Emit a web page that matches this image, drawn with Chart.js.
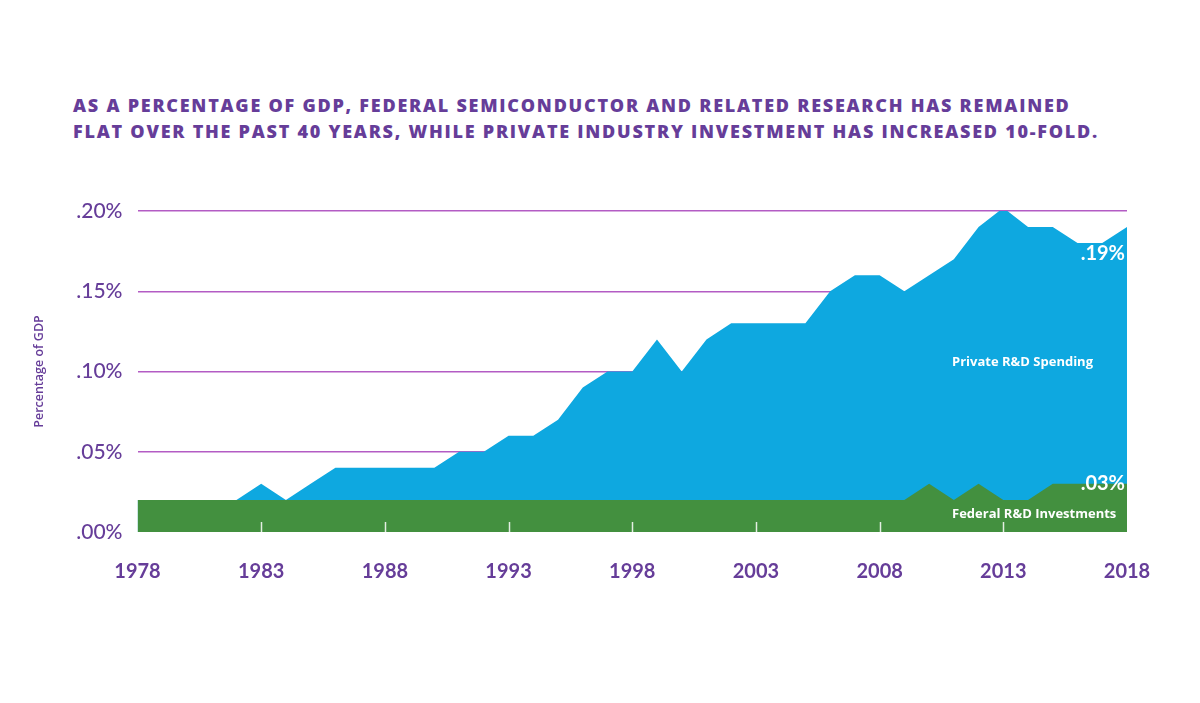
<!DOCTYPE html>
<html>
<head>
<meta charset="utf-8">
<script src="https://cdn.jsdelivr.net/npm/chart.js@4.4.1/dist/chart.umd.min.js"></script>
<style>
  html, body { margin: 0; padding: 0; background: #fff; }
  #wrap { position: relative; width: 1200px; height: 703px; }
  #headline {
    position: absolute; left: 73px; top: 92px;
    font-family: "Open Sans", sans-serif; font-weight: 800;
    font-size: 18px; line-height: 26px; color: #663d99;
    letter-spacing: 1.75px;
    white-space: nowrap;
  }
  canvas { position: absolute; left: 0; top: 0; }
</style>
</head>
<body>
<div id="wrap">
  <div id="headline">AS A PERCENTAGE OF GDP, FEDERAL SEMICONDUCTOR AND RELATED RESEARCH HAS REMAINED<br>FLAT OVER THE PAST 40 YEARS, WHILE PRIVATE INDUSTRY INVESTMENT HAS INCREASED 10-FOLD.</div>
  <canvas id="chart" width="1200" height="703"></canvas>
</div>
<script>
// years 1978..2018
const years = [1978, 1979, 1980, 1981, 1982, 1983, 1984, 1985, 1986, 1987,
  1988, 1989, 1990, 1991, 1992, 1993, 1994, 1995, 1996, 1997,
  1998, 1999, 2000, 2001, 2002, 2003, 2004, 2005, 2006, 2007,
  2008, 2009, 2010, 2011, 2012, 2013, 2014, 2015, 2016, 2017, 2018];

// private R&D spending, % of GDP
const privateSpending = [0.02, 0.02, 0.02, 0.02, 0.02, 0.03, 0.02, 0.03, 0.04, 0.04,
  0.04, 0.04, 0.04, 0.05, 0.05, 0.06, 0.06, 0.07, 0.09, 0.10,
  0.10, 0.12, 0.10, 0.12, 0.13, 0.13, 0.13, 0.13, 0.15, 0.16,
  0.16, 0.15, 0.16, 0.17, 0.19, 0.202, 0.19, 0.19, 0.18, 0.18, 0.19];

// federal R&D investments, % of GDP
const federalInvestment = [0.02, 0.02, 0.02, 0.02, 0.02, 0.02, 0.02, 0.02, 0.02, 0.02,
  0.02, 0.02, 0.02, 0.02, 0.02, 0.02, 0.02, 0.02, 0.02, 0.02,
  0.02, 0.02, 0.02, 0.02, 0.02, 0.02, 0.02, 0.02, 0.02, 0.02,
  0.02, 0.02, 0.03, 0.02, 0.03, 0.02, 0.02, 0.03, 0.03, 0.03, 0.03];

const yTicks = [0, 0.05, 0.10, 0.15, 0.20];
const labelYears = [1978, 1983, 1988, 1993, 1998, 2003, 2008, 2013, 2018];

const purple = '#663d99';
const blue = '#0ea8e0';
const green = '#43903f';

// short white ticks inside the green band + white end labels
const overlayPlugin = {
  id: 'overlay',
  afterDatasetsDraw(chart) {
    const { ctx, chartArea, scales } = chart;
    const x = scales.x, y = scales.y;
    ctx.save();
    ctx.strokeStyle = 'rgba(255,255,255,0.85)';
    ctx.lineWidth = 1.5;
    labelYears.slice(1, -1).forEach(yr => {
      const px = Math.round(x.getPixelForValue(years.indexOf(yr))) + 0.5;
      ctx.beginPath();
      ctx.moveTo(px, chartArea.bottom - 10);
      ctx.lineTo(px, chartArea.bottom);
      ctx.stroke();
    });

    const last = years.length - 1;
    const rx = x.getPixelForValue(last) - 2;
    ctx.fillStyle = '#fff';
    ctx.textAlign = 'right';
    ctx.textBaseline = 'middle';
    ctx.font = 'bold 20px Lato';
    ctx.fillText('.19%', rx, y.getPixelForValue(privateSpending[last]) + 26);
    ctx.fillText('.03%', rx, y.getPixelForValue(federalInvestment[last]));

    ctx.textAlign = 'left';
    ctx.font = 'bold 13px "Open Sans"';
    ctx.fillText('Private R&D Spending', chartArea.right - 175, y.getPixelForValue(0.106));
    ctx.fillText('Federal R&D Investments', chartArea.right - 175, y.getPixelForValue(0.011));
    ctx.restore();
  }
};

new Chart(document.getElementById('chart'), {
  type: 'line',
  data: {
    labels: years,
    datasets: [
      {
        label: 'Federal R&D Investments',
        data: federalInvestment,
        backgroundColor: green,
        borderWidth: 0,
        pointRadius: 0,
        tension: 0,
        fill: 'origin'
      },
      {
        label: 'Private R&D Spending',
        data: privateSpending,
        backgroundColor: blue,
        borderWidth: 0,
        pointRadius: 0,
        tension: 0,
        fill: 'origin',
        clip: false
      }
    ]
  },
  options: {
    responsive: false,
    animation: false,
    layout: { padding: { top: 211, right: 73, bottom: 121, left: 0 } },
    plugins: {
      legend: { display: false },
      tooltip: { enabled: false }
    },
    scales: {
      x: {
        type: 'category',
        offset: false,
        grid: { display: false },
        border: { display: false },
        afterFit(scale) { scale.height = 50; },
        ticks: {
          autoSkip: false,
          maxRotation: 0,
          padding: 20,
          color: purple,
          font: { family: 'Lato', weight: 'bold', size: 20 },
          callback(value) {
            const yr = years[value];
            return labelYears.includes(yr) ? String(yr) : '';
          }
        }
      },
      y: {
        min: 0,
        max: 0.2,
        afterFit(scale) { scale.width = 137.5; },
        afterBuildTicks(scale) { scale.ticks = yTicks.map(v => ({ value: v })); },
        grid: {
          color: ctx => ctx.tick && ctx.tick.value > 0 ? '#b35cc4' : 'rgba(0,0,0,0)',
          lineWidth: 1.5,
          drawTicks: false
        },
        border: { display: false },
        ticks: {
          padding: 15,
          color: purple,
          font: { family: 'Lato', weight: '500', size: 21 },
          callback(value) { return '.' + String(Math.round(value * 100)).padStart(2, '0') + '%'; }
        },
        title: {
          display: true,
          text: 'Percentage of GDP',
          color: purple,
          padding: { top: 32, bottom: 0 },
          font: { family: 'Open Sans', weight: '600', size: 12.5 }
        }
      }
    }
  },
  plugins: [overlayPlugin]
});
</script>
</body>
</html>
